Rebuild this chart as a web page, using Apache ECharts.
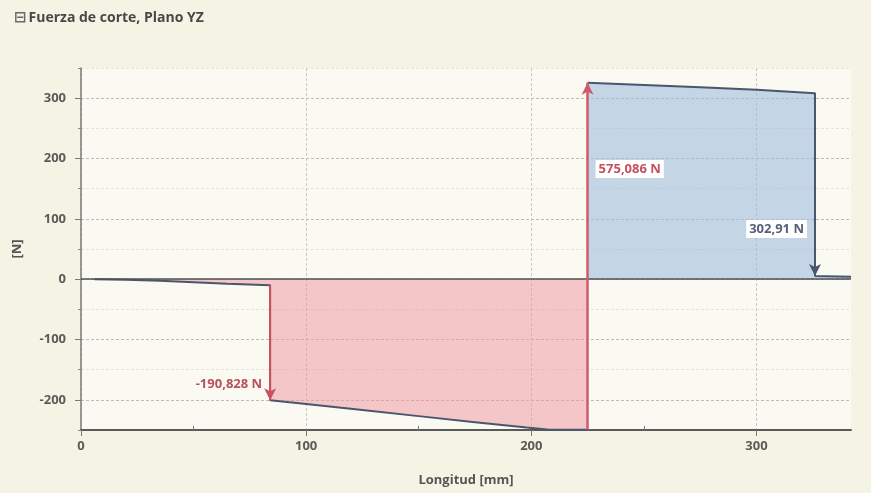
<!DOCTYPE html>
<html>
<head>
<meta charset="utf-8">
<script src="https://cdn.jsdelivr.net/npm/echarts@6/dist/echarts.min.js"></script>
<style>
  html, body { margin: 0; padding: 0; background: #f5f3e4; }
  #chart { width: 871px; height: 493px; }
</style>
</head>
<body>
<div id="chart"></div>
<script>
// Shear force along the shaft, YZ plane (mm, N)
const positions = [6, 20, 35, 50, 65, 84, 84, 100, 125, 150, 175, 198, 208, 225, 225, 250, 275, 300, 326, 326, 342];
const shear = [0, -1, -2.5, -5, -7.5, -10, -200.828, -207, -217, -227, -237, -246, -249.5, -249.5, 325.586, 322, 318, 314, 308, 5.09, 4];
const splitIndex = 14; // first point of the positive section

// Concentrated loads: position, start value, jump, label
const loadAt = [84, 225, 326];
const loadFrom = [-10, -249.5, 308];
const loadJump = [-190.828, 575.086, -302.91];
const loadLabels = ['-190,828 N', '575,086 N', '302,91 N'];
const labelY = [-174.5, 182.7, 83];

const xTicks = [0, 100, 200, 300];
const xMinorTicks = [50, 150, 250];
const yTicks = [-200, -100, 0, 100, 200, 300];

const pts = positions.map((x, i) => [x, shear[i]]);
const negPts = pts.slice(0, splitIndex);
const posPts = pts.slice(splitIndex);

const red = '#c9505e';
const slate = '#4a566c';
const font = '"Open Sans", "DejaVu Sans", sans-serif';

function arrowLine(i, color, width) {
  return [
    { coord: [loadAt[i], loadFrom[i]], lineStyle: { color, width, type: 'solid' } },
    { coord: [loadAt[i], loadFrom[i] + loadJump[i]] }
  ];
}

const chart = echarts.init(document.getElementById('chart'), null, { renderer: 'canvas' });
chart.setOption({
  animation: false,
  backgroundColor: '#f5f3e4',
  title: {
    left: 9, top: 6,
    text: '{b|⊟}{t|Fuerza de corte, Plano YZ}',
    textStyle: {
      rich: {
        b: { fontSize: 15, color: '#6a6a6a', fontFamily: 'DejaVu Sans', padding: [0, 2, 0, 0] },
        t: { fontSize: 14, fontWeight: 'bold', color: '#484848', fontFamily: font }
      }
    }
  },
  grid: {
    left: 81, right: 20, top: 68, bottom: 63,
    containLabel: false, outerBoundsMode: 'none',
    show: true, backgroundColor: '#fbfaf2', borderWidth: 0
  },
  xAxis: [{
    type: 'value', min: 0, max: 342,
    name: 'Longitud [mm]', nameLocation: 'middle', nameGap: 44,
    nameTextStyle: { fontFamily: font, fontWeight: 'bold', fontSize: 13, color: '#555' },
    axisLine: { onZero: false, lineStyle: { color: '#5a5a5a', width: 2 } },
    axisTick: { customValues: xTicks, length: 6, lineStyle: { color: '#777' } },
    axisLabel: { customValues: xTicks, fontFamily: font, fontWeight: 'bold', fontSize: 13, color: '#5a5a5a', margin: 10 },
    splitLine: { show: true, lineStyle: { color: '#c8c8c0', type: [3, 2], width: 1 } }
  }, {
    type: 'value', min: 0, max: 342, position: 'bottom',
    axisLine: { show: false, onZero: false },
    axisTick: { customValues: xMinorTicks, inside: true, length: 4, lineStyle: { color: '#777' } },
    axisLabel: { show: false },
    splitLine: { show: false }
  }],
  yAxis: [{
    type: 'value', min: -250, max: 350, interval: 50, position: 'left',
    axisLine: { show: false, onZero: false },
    axisTick: { length: 3, lineStyle: { color: '#888' } },
    axisLabel: { show: false },
    splitLine: { show: true, lineStyle: { color: '#e6e4da', type: [3, 2], width: 1 } }
  }, {
    type: 'value', min: -250, max: 350, position: 'left', offset: 0,
    name: '[N]', nameLocation: 'middle', nameGap: 57, nameRotate: 90,
    nameTextStyle: { fontFamily: font, fontWeight: 'bold', fontSize: 13, color: '#555' },
    axisLine: { show: true, onZero: false, lineStyle: { color: '#7a7a7a', width: 1.5 } },
    axisTick: { customValues: yTicks, length: 6, lineStyle: { color: '#777' } },
    axisLabel: { customValues: yTicks, fontFamily: font, fontWeight: 'bold', fontSize: 13, color: '#5a5a5a', margin: 15 },
    splitLine: { show: true, lineStyle: { color: '#bdbdb5', type: [3, 2], width: 1 } }
  }],
  series: [{
    name: 'negativo', type: 'line', yAxisIndex: 1, data: negPts,
    showSymbol: false, z: 3,
    lineStyle: { color: slate, width: 2 },
    areaStyle: { origin: 0, color: 'rgba(240,150,162,0.75)' },
    markLine: {
      silent: true, symbol: ['none', 'arrow'], symbolSize: [9, 12],
      label: { show: false },
      data: [
        [{ yAxis: 0, x: 81, lineStyle: { color: '#505050', width: 1.5, type: 'solid' }, symbol: 'none' }, { yAxis: 0, x: 851, symbol: 'none' }],
        arrowLine(0, red, 2),
        arrowLine(1, '#d05a6a', 2.5)
      ]
    },
    markPoint: {
      silent: true, symbol: 'rect', symbolSize: 0,
      data: [{
        coord: [loadAt[0], labelY[0]],
        label: { show: true, formatter: loadLabels[0], position: 'left', distance: 8,
          color: '#b8505a', fontFamily: font, fontWeight: 'bold', fontSize: 13 }
      }, {
        coord: [loadAt[1], labelY[1]],
        label: { show: true, formatter: loadLabels[1], position: 'right', distance: 8,
          color: '#c8505e', fontFamily: font, fontWeight: 'bold', fontSize: 13,
          backgroundColor: '#ffffff', padding: [3, 3, 2, 3] }
      }]
    }
  }, {
    name: 'positivo', type: 'line', yAxisIndex: 1, data: posPts,
    showSymbol: false, z: 3,
    lineStyle: { color: slate, width: 2 },
    areaStyle: { origin: 0, color: 'rgba(160,188,222,0.85)' },
    markLine: {
      silent: true, symbol: ['none', 'arrow'], symbolSize: [9, 12],
      label: { show: false },
      data: [arrowLine(2, slate, 2)]
    },
    markPoint: {
      silent: true, symbol: 'rect', symbolSize: 0,
      data: [{
        coord: [loadAt[2], labelY[2]],
        label: { show: true, formatter: loadLabels[2], position: 'left', distance: 8,
          color: '#56607a', fontFamily: font, fontWeight: 'bold', fontSize: 13,
          backgroundColor: '#ffffff', padding: [3, 3, 2, 3] }
      }]
    }
  }]
});
</script>
</body>
</html>
